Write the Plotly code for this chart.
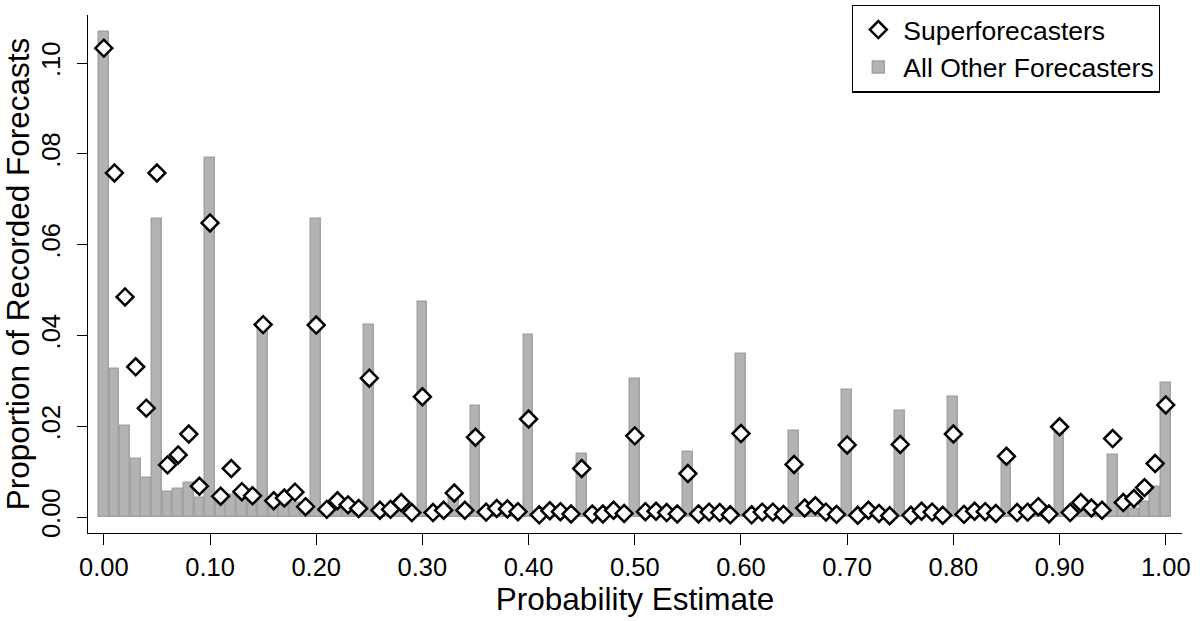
import plotly.graph_objects as go

probability = [
    0.00, 0.01, 0.02, 0.03, 0.04, 0.05, 0.06, 0.07, 0.08, 0.09,
    0.10, 0.11, 0.12, 0.13, 0.14, 0.15, 0.16, 0.17, 0.18, 0.19,
    0.20, 0.21, 0.22, 0.23, 0.24, 0.25, 0.26, 0.27, 0.28, 0.29,
    0.30, 0.31, 0.32, 0.33, 0.34, 0.35, 0.36, 0.37, 0.38, 0.39,
    0.40, 0.41, 0.42, 0.43, 0.44, 0.45, 0.46, 0.47, 0.48, 0.49,
    0.50, 0.51, 0.52, 0.53, 0.54, 0.55, 0.56, 0.57, 0.58, 0.59,
    0.60, 0.61, 0.62, 0.63, 0.64, 0.65, 0.66, 0.67, 0.68, 0.69,
    0.70, 0.71, 0.72, 0.73, 0.74, 0.75, 0.76, 0.77, 0.78, 0.79,
    0.80, 0.81, 0.82, 0.83, 0.84, 0.85, 0.86, 0.87, 0.88, 0.89,
    0.90, 0.91, 0.92, 0.93, 0.94, 0.95, 0.96, 0.97, 0.98, 0.99,
    1.00,
]

superforecasters = [
    0.1033, 0.0758, 0.0485, 0.0331, 0.0240, 0.0758, 0.0115, 0.0137, 0.0183, 0.0068,
    0.0648, 0.0046, 0.0107, 0.0056, 0.0047, 0.0424, 0.0036, 0.0042, 0.0055, 0.0023,
    0.0423, 0.0017, 0.0036, 0.0027, 0.0019, 0.0306, 0.0015, 0.0017, 0.0032, 0.0010,
    0.0265, 0.0010, 0.0015, 0.0053, 0.0015, 0.0176, 0.0011, 0.0019, 0.0018, 0.0012,
    0.0216, 0.0005, 0.0014, 0.0012, 0.0007, 0.0107, 0.0007, 0.0007, 0.0015, 0.0008,
    0.0179, 0.0012, 0.0013, 0.0010, 0.0007, 0.0096, 0.0007, 0.0011, 0.0010, 0.0005,
    0.0184, 0.0005, 0.0011, 0.0011, 0.0006, 0.0116, 0.0020, 0.0025, 0.0011, 0.0006,
    0.0159, 0.0004, 0.0015, 0.0008, 0.0003, 0.0160, 0.0004, 0.0013, 0.0011, 0.0004,
    0.0183, 0.0006, 0.0013, 0.0012, 0.0008, 0.0134, 0.0010, 0.0011, 0.0023, 0.0007,
    0.0199, 0.0010, 0.0032, 0.0020, 0.0015, 0.0173, 0.0032, 0.0041, 0.0065, 0.0118,
    0.0247,
]

other_forecasters = [
    0.1068, 0.0326, 0.0200, 0.0128, 0.0087, 0.0656, 0.0055, 0.0062, 0.0075, 0.0043,
    0.0792, 0.0040, 0.0048, 0.0042, 0.0035, 0.0424, 0.0030, 0.0028, 0.0032, 0.0020,
    0.0656, 0.0018, 0.0022, 0.0020, 0.0016, 0.0423, 0.0015, 0.0014, 0.0018, 0.0012,
    0.0473, 0.0012, 0.0014, 0.0045, 0.0013, 0.0245, 0.0012, 0.0013, 0.0013, 0.0011,
    0.0402, 0.0010, 0.0011, 0.0010, 0.0009, 0.0138, 0.0009, 0.0009, 0.0012, 0.0009,
    0.0304, 0.0010, 0.0010, 0.0009, 0.0008, 0.0144, 0.0008, 0.0009, 0.0009, 0.0007,
    0.0360, 0.0007, 0.0009, 0.0009, 0.0008, 0.0190, 0.0015, 0.0018, 0.0010, 0.0008,
    0.0279, 0.0007, 0.0010, 0.0008, 0.0006, 0.0234, 0.0007, 0.0009, 0.0009, 0.0006,
    0.0265, 0.0008, 0.0010, 0.0010, 0.0008, 0.0129, 0.0009, 0.0010, 0.0014, 0.0008,
    0.0201, 0.0010, 0.0020, 0.0016, 0.0013, 0.0136, 0.0015, 0.0017, 0.0034, 0.0067,
    0.0295,
]

x_tick_vals = [0.0, 0.1, 0.2, 0.3, 0.4, 0.5, 0.6, 0.7, 0.8, 0.9, 1.0]
x_tick_text = ["0.00", "0.10", "0.20", "0.30", "0.40", "0.50", "0.60", "0.70", "0.80", "0.90", "1.00"]
y_tick_vals = [0.0, 0.02, 0.04, 0.06, 0.08, 0.10]
y_tick_text = ["0.00", ".02", ".04", ".06", ".08", ".10"]

FONT = "Liberation Sans, Arial, Helvetica, sans-serif"

fig = go.Figure()
fig.add_trace(go.Bar(
    x=probability, y=other_forecasters, name="All Other Forecasters",
    width=0.0092,
    marker=dict(color="#b3b3b3", line=dict(color="#a2a2a2", width=1.5)),
    legendrank=2,
))
fig.add_trace(go.Scatter(
    x=probability, y=superforecasters, name="Superforecasters",
    mode="markers",
    marker=dict(symbol="diamond", size=13, color="white",
                line=dict(color="black", width=2.5)),
    legendrank=1,
))

fig.update_layout(
    width=1200, height=621,
    margin=dict(l=88, r=18, t=15, b=88, autoexpand=False),
    paper_bgcolor="white", plot_bgcolor="white",
    font=dict(family=FONT, color="black", size=25),
    showlegend=True,
    legend=dict(
        x=0.980, y=1.020, xanchor="right", yanchor="top",
        bordercolor="black", borderwidth=1.2, bgcolor="white",
        font=dict(size=26.5, family=FONT),
        itemwidth=40, tracegroupgap=0,
    ),
    bargap=0,
)
fig.update_xaxes(
    range=[-0.0149, 1.0153], automargin=False,
    tickvals=x_tick_vals, ticktext=x_tick_text,
    showline=True, linecolor="black", linewidth=1.3,
    ticks="outside", ticklen=11, tickwidth=1.3, tickcolor="black",
    showgrid=False, zeroline=False,
    tickfont=dict(size=25.5, family=FONT),
    title=dict(text="Probability Estimate", font=dict(size=31.5, family=FONT), standoff=4),
)
fig.update_yaxes(
    range=[-0.0035, 0.1106], automargin=False,
    tickvals=y_tick_vals, ticktext=y_tick_text,
    tickangle=-90, ticklabelstandoff=7,
    showline=True, linecolor="black", linewidth=1.3,
    ticks="outside", ticklen=10, tickwidth=1.3, tickcolor="black",
    showgrid=False, zeroline=False,
    tickfont=dict(size=25.5, family=FONT),
    title=dict(text="Proportion of Recorded Forecasts", font=dict(size=31.5, family=FONT), standoff=4),
)

fig.write_html("out.html", config={"displayModeBar": False},
               post_script="document.body.style.margin='0px';")
